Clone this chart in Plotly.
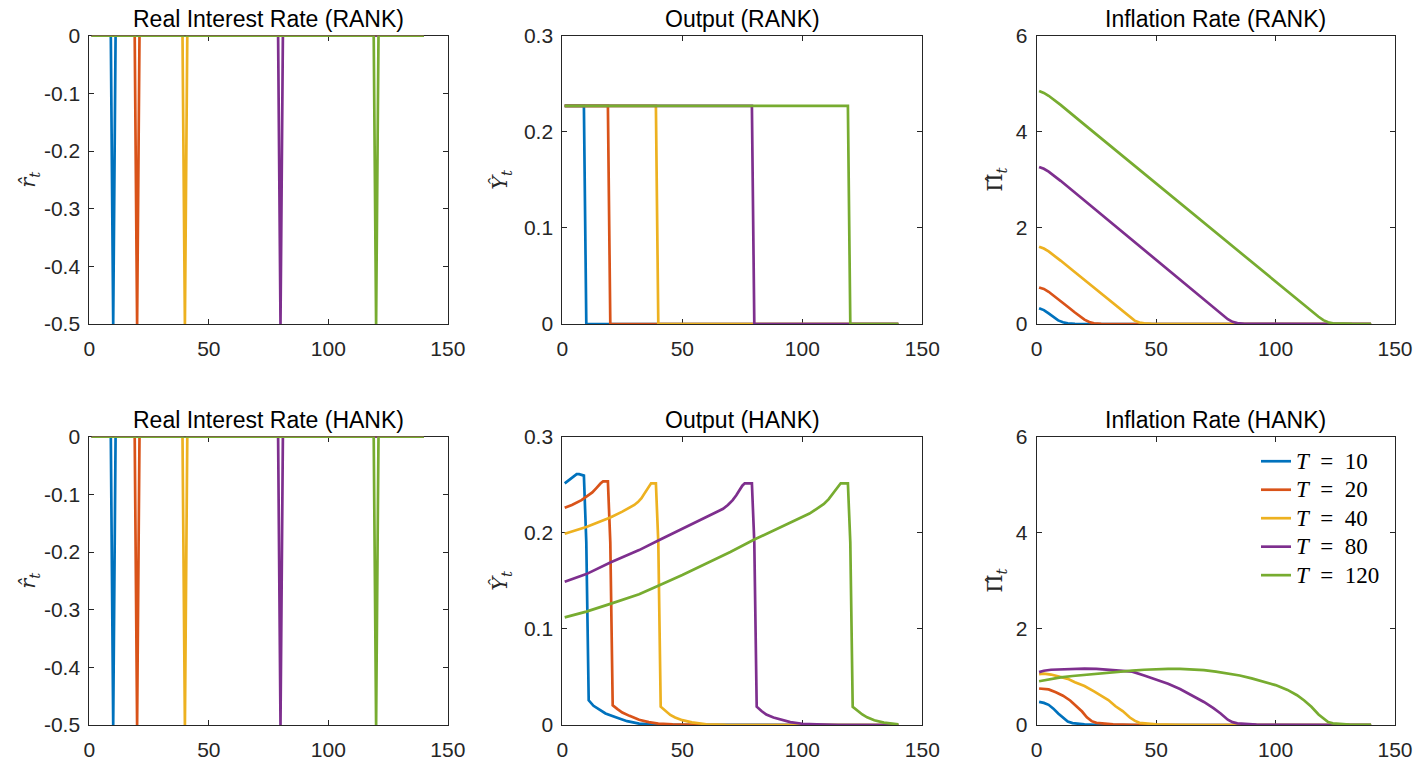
import plotly.graph_objects as go
from plotly.subplots import make_subplots

# ---------------- data ----------------
COLORS = ["#0072BD", "#D95319", "#EDB120", "#7E2F8E", "#77AC30"]
T_VALUES = [10, 20, 40, 80, 120]
LEGEND_LABELS = ['<span style="font-size:23px"><i>T</i>&#8194;=&#8194;%d</span>' % v for v in T_VALUES]

TITLES = ["Real Interest Rate (RANK)", "Output (RANK)", "Inflation Rate (RANK)",
          "Real Interest Rate (HANK)", "Output (HANK)", "Inflation Rate (HANK)"]
YLABELS = ["<i>r&#770;</i><sub><i>t</i></sub>", "<i>Y&#770;</i><sub><i>t</i></sub>", "&#928;&#770;<sub><i>t</i></sub>",
           "<i>r&#770;</i><sub><i>t</i></sub>", "<i>Y&#770;</i><sub><i>t</i></sub>", "&#928;&#770;<sub><i>t</i></sub>"]

X_TICKS = [0, 50, 100, 150]
R_TICKS = [-0.5, -0.4, -0.3, -0.2, -0.1, 0]
R_TICKTEXT = ["-0.5", "-0.4", "-0.3", "-0.2", "-0.1", "0"]
Y_TICKS = [0, 0.1, 0.2, 0.3]
Y_TICKTEXT = ["0", "0.1", "0.2", "0.3"]
PI_TICKS = [0, 2, 4, 6]
PI_TICKTEXT = ["0", "2", "4", "6"]

# Real interest rate (RANK and HANK look identical; spike clipped at axis bottom)
r_t10_t = [1, 9, 10, 11, 140]
r_t10_v = [0, 0, -0.5, 0, 0]
r_t20_t = [1, 19, 20, 21, 140]
r_t20_v = [0, 0, -0.5, 0, 0]
r_t40_t = [1, 39, 40, 41, 140]
r_t40_v = [0, 0, -0.5, 0, 0]
r_t80_t = [1, 79, 80, 81, 140]
r_t80_v = [0, 0, -0.5, 0, 0]
r_t120_t = [1, 119, 120, 121, 140]
r_t120_v = [0, 0, -0.5, 0, 0]

# Output (RANK)
rank_y_t10_t = [1, 9, 10, 140]
rank_y_t10_v = [0.227, 0.227, 0, 0]
rank_y_t20_t = [1, 19, 20, 140]
rank_y_t20_v = [0.227, 0.227, 0, 0]
rank_y_t40_t = [1, 39, 40, 140]
rank_y_t40_v = [0.227, 0.227, 0, 0]
rank_y_t80_t = [1, 79, 80, 140]
rank_y_t80_v = [0.227, 0.227, 0, 0]
rank_y_t120_t = [1, 119, 120, 140]
rank_y_t120_v = [0.227, 0.227, 0, 0]

# Inflation (RANK)
rank_pi_t10_t = [1, 3, 5, 7, 9, 11, 13, 16, 20, 140]
rank_pi_t10_v = [0.33, 0.29, 0.22, 0.14, 0.075, 0.035, 0.015, 0.004, 0, 0]
rank_pi_t20_t = [1, 3, 5, 8, 10, 13, 16, 18, 20, 22, 24, 27, 32, 140]
rank_pi_t20_v = [0.76, 0.73, 0.67, 0.56, 0.48, 0.36, 0.24, 0.16, 0.09, 0.04, 0.015, 0.004, 0, 0]
rank_pi_t40_t = [1, 3, 5, 8, 10, 15, 20, 25, 30, 34, 37, 39, 41, 43, 45, 48, 55, 140]
rank_pi_t40_v = [1.61, 1.57, 1.51, 1.40, 1.32, 1.12, 0.92, 0.71, 0.50, 0.34, 0.22, 0.14, 0.07, 0.03, 0.012, 0.003, 0, 0]
rank_pi_t80_t = [1, 3, 5, 8, 10, 20, 30, 40, 50, 60, 70, 75, 78, 80, 82, 84, 87, 92, 140]
rank_pi_t80_v = [3.27, 3.23, 3.17, 3.06, 2.98, 2.57, 2.16, 1.75, 1.34, 0.93, 0.52, 0.31, 0.18, 0.10, 0.045, 0.018, 0.005, 0.001, 0]
rank_pi_t120_t = [1, 3, 5, 8, 10, 20, 30, 40, 50, 60, 70, 80, 90, 100, 110, 115, 118, 120, 122, 124, 127, 132, 140]
rank_pi_t120_v = [4.85, 4.81, 4.75, 4.64, 4.56, 4.15, 3.74, 3.33, 2.93, 2.52, 2.11, 1.70, 1.29, 0.88, 0.47, 0.27, 0.15, 0.08, 0.035, 0.015, 0.005, 0.001, 0]

# Output (HANK)
hank_y_t10_t = [1, 3, 5, 6, 7, 8, 9, 10, 11, 13, 15, 18, 22, 27, 32, 38, 140]
hank_y_t10_v = [0.2515, 0.255, 0.259, 0.261, 0.261, 0.260, 0.2595, 0.19, 0.0257, 0.020, 0.017, 0.012, 0.0083, 0.004, 0.0015, 0.0003, 0]
hank_y_t20_t = [1, 4, 8, 11, 12.5, 14, 15, 16, 17, 19, 20, 21, 23, 25, 28, 32, 36, 40, 46, 55, 60, 140]
hank_y_t20_v = [0.226, 0.229, 0.234, 0.239, 0.242, 0.246, 0.249, 0.2515, 0.2535, 0.2535, 0.19, 0.0205, 0.0165, 0.013, 0.0095, 0.0055, 0.003, 0.0015, 0.0006, 0.0001, 0, 0]
hank_y_t40_t = [1, 5, 10, 15, 20, 25, 28, 30, 31.5, 33, 34, 35, 36, 37, 39, 40, 41, 43, 45, 47, 50, 54, 60, 68, 75, 140]
hank_y_t40_v = [0.199, 0.202, 0.206, 0.211, 0.216, 0.222, 0.226, 0.229, 0.232, 0.236, 0.240, 0.244, 0.248, 0.2515, 0.2515, 0.19, 0.019, 0.0145, 0.0105, 0.0078, 0.005, 0.0027, 0.0008, 0.0001, 0, 0]
hank_y_t80_t = [1, 10, 20, 32, 40, 50, 60, 63, 67, 69, 71, 72.5, 74, 75, 76, 79, 80, 81, 83, 85, 88, 91, 95, 100, 108, 115, 140]
hank_y_t80_v = [0.149, 0.157, 0.169, 0.182, 0.192, 0.204, 0.216, 0.220, 0.225, 0.229, 0.234, 0.239, 0.245, 0.249, 0.2515, 0.2515, 0.19, 0.019, 0.0145, 0.0108, 0.0078, 0.0055, 0.003, 0.0013, 0.0003, 0, 0]
hank_y_t120_t = [1, 10, 20, 32, 40, 50, 60, 70, 80, 90, 99, 103, 106, 109, 111, 112.5, 114, 115, 116, 119, 120, 121, 123, 125, 127, 130, 134, 137, 140]
hank_y_t120_v = [0.112, 0.118, 0.126, 0.136, 0.145, 0.156, 0.168, 0.180, 0.193, 0.205, 0.216, 0.220, 0.225, 0.230, 0.235, 0.240, 0.245, 0.249, 0.2515, 0.2515, 0.19, 0.019, 0.0145, 0.011, 0.008, 0.005, 0.0025, 0.0013, 0.0006]

# Inflation (HANK)
hank_pi_t10_t = [1, 3, 5, 7, 9, 11, 13, 15, 17, 20, 25, 32, 140]
hank_pi_t10_v = [0.48, 0.46, 0.42, 0.34, 0.24, 0.145, 0.07, 0.04, 0.025, 0.012, 0.004, 0, 0]
hank_pi_t20_t = [1, 3, 5, 8, 11, 14, 17, 19, 21, 23, 25, 28, 32, 40, 50, 140]
hank_pi_t20_v = [0.76, 0.755, 0.74, 0.68, 0.61, 0.51, 0.38, 0.28, 0.16, 0.08, 0.045, 0.025, 0.012, 0.003, 0, 0]
hank_pi_t40_t = [1, 3, 6, 10, 13, 16, 20, 24, 27, 30, 33, 36, 39, 41, 43, 46, 50, 58, 70, 140]
hank_pi_t40_v = [1.06, 1.07, 1.05, 1.0, 0.96, 0.89, 0.81, 0.70, 0.61, 0.52, 0.39, 0.29, 0.155, 0.09, 0.045, 0.025, 0.012, 0.003, 0, 0]
hank_pi_t80_t = [1, 3, 6, 10, 15, 20, 25, 30, 35, 40, 45, 50, 55, 60, 65, 70, 74, 77, 80, 82, 84, 87, 92, 100, 110, 140]
hank_pi_t80_v = [1.10, 1.13, 1.15, 1.16, 1.17, 1.175, 1.17, 1.15, 1.13, 1.11, 1.03, 0.95, 0.86, 0.75, 0.62, 0.48, 0.35, 0.24, 0.11, 0.06, 0.035, 0.02, 0.008, 0.002, 0, 0]
hank_pi_t120_t = [1, 5, 10, 15, 20, 25, 30, 35, 40, 45, 50, 55, 60, 65, 70, 75, 80, 85, 90, 95, 100, 105, 109, 112, 115, 118, 120, 122, 124, 127, 131, 136, 140]
hank_pi_t120_v = [0.91, 0.95, 0.99, 1.02, 1.045, 1.07, 1.09, 1.115, 1.13, 1.15, 1.162, 1.167, 1.167, 1.158, 1.14, 1.11, 1.075, 1.03, 0.97, 0.90, 0.83, 0.73, 0.62, 0.51, 0.38, 0.22, 0.13, 0.06, 0.035, 0.02, 0.009, 0.003, 0.001]

# ---------------- figure ----------------
panels = [
    [(r_t10_t, r_t10_v), (r_t20_t, r_t20_v), (r_t40_t, r_t40_v), (r_t80_t, r_t80_v), (r_t120_t, r_t120_v)],
    [(rank_y_t10_t, rank_y_t10_v), (rank_y_t20_t, rank_y_t20_v), (rank_y_t40_t, rank_y_t40_v),
     (rank_y_t80_t, rank_y_t80_v), (rank_y_t120_t, rank_y_t120_v)],
    [(rank_pi_t10_t, rank_pi_t10_v), (rank_pi_t20_t, rank_pi_t20_v), (rank_pi_t40_t, rank_pi_t40_v),
     (rank_pi_t80_t, rank_pi_t80_v), (rank_pi_t120_t, rank_pi_t120_v)],
    [(r_t10_t, r_t10_v), (r_t20_t, r_t20_v), (r_t40_t, r_t40_v), (r_t80_t, r_t80_v), (r_t120_t, r_t120_v)],
    [(hank_y_t10_t, hank_y_t10_v), (hank_y_t20_t, hank_y_t20_v), (hank_y_t40_t, hank_y_t40_v),
     (hank_y_t80_t, hank_y_t80_v), (hank_y_t120_t, hank_y_t120_v)],
    [(hank_pi_t10_t, hank_pi_t10_v), (hank_pi_t20_t, hank_pi_t20_v), (hank_pi_t40_t, hank_pi_t40_v),
     (hank_pi_t80_t, hank_pi_t80_v), (hank_pi_t120_t, hank_pi_t120_v)],
]

W, H = 1420, 765
X_DOM = [(89.3, 447.8), (562.3, 922.3), (1036.7, 1395.0)]
Y_DOM = [(35.7, 324.0), (436.7, 725.0)]
YLABEL_X = [29, 501, 996]

fig = make_subplots(rows=2, cols=3)

for p, series in enumerate(panels):
    row, col = p // 3 + 1, p % 3 + 1
    for k, (t, v) in enumerate(series):
        fig.add_trace(go.Scatter(
            x=t, y=v, mode="lines",
            line=dict(color=COLORS[k], width=2.7),
            name=LEGEND_LABELS[k],
            showlegend=(p == 5),
            hoverinfo="skip",
        ), row=row, col=col)

tick_font = dict(family="Liberation Sans, Arial, sans-serif", size=21, color="#262626")
axis_common = dict(showline=True, linecolor="#262626", linewidth=1, mirror="ticks",
                   ticks="inside", ticklen=5, tickcolor="#262626", tickwidth=1,
                   showgrid=False, zeroline=False, tickfont=tick_font, layer="below traces",
                   automargin=False)

y_specs = [
    ([-0.5, 0], R_TICKS, R_TICKTEXT),
    ([0, 0.3], Y_TICKS, Y_TICKTEXT),
    ([0, 6], PI_TICKS, PI_TICKTEXT),
]

annotations = []
for p in range(6):
    r, c = p // 3, p % 3
    x0, x1 = X_DOM[c]
    y0, y1 = Y_DOM[r]
    sfx = "" if p == 0 else str(p + 1)
    fig.layout["xaxis" + sfx].update(
        domain=[x0 / W, x1 / W], range=[0, 150], tickvals=X_TICKS,
        ticktext=[str(v) for v in X_TICKS], ticklabelstandoff=6, **axis_common)
    yr, yt, ytt = y_specs[c]
    fig.layout["yaxis" + sfx].update(
        domain=[1 - y1 / H, 1 - y0 / H], range=yr, tickvals=yt, ticktext=ytt,
        ticklabelstandoff=4, **axis_common)
    annotations.append(dict(
        text=TITLES[p], xref="paper", yref="paper",
        x=(x0 + x1) / 2 / W, y=1 - y0 / H, xanchor="center", yanchor="bottom",
        yshift=2, showarrow=False,
        font=dict(family="Liberation Sans, Arial, sans-serif", size=23, color="#000000")))
    annotations.append(dict(
        text=YLABELS[p], xref="paper", yref="paper",
        x=YLABEL_X[c] / W, y=1 - (y0 + y1) / 2 / H, xanchor="center", yanchor="middle",
        textangle=-90, showarrow=False,
        font=dict(family="DejaVu Serif, Liberation Serif, serif", size=21, color="#262626")))

fig.update_layout(
    template="none",
    width=W, height=H, autosize=False,
    margin=dict(l=0, r=0, t=0, b=0, pad=0),
    paper_bgcolor="white", plot_bgcolor="white",
    annotations=annotations,
    legend=dict(x=1256 / W, y=1 - 442 / H, xanchor="left", yanchor="top",
                bgcolor="rgba(0,0,0,0)", borderwidth=0, itemwidth=30,
                font=dict(family="Liberation Serif, DejaVu Serif, serif", size=19.6, color="#000000")),
)

fig.write_html("out.html", config={"displayModeBar": False, "staticPlot": True},
               post_script="document.body.style.margin='0px';document.body.style.overflow='hidden';")
